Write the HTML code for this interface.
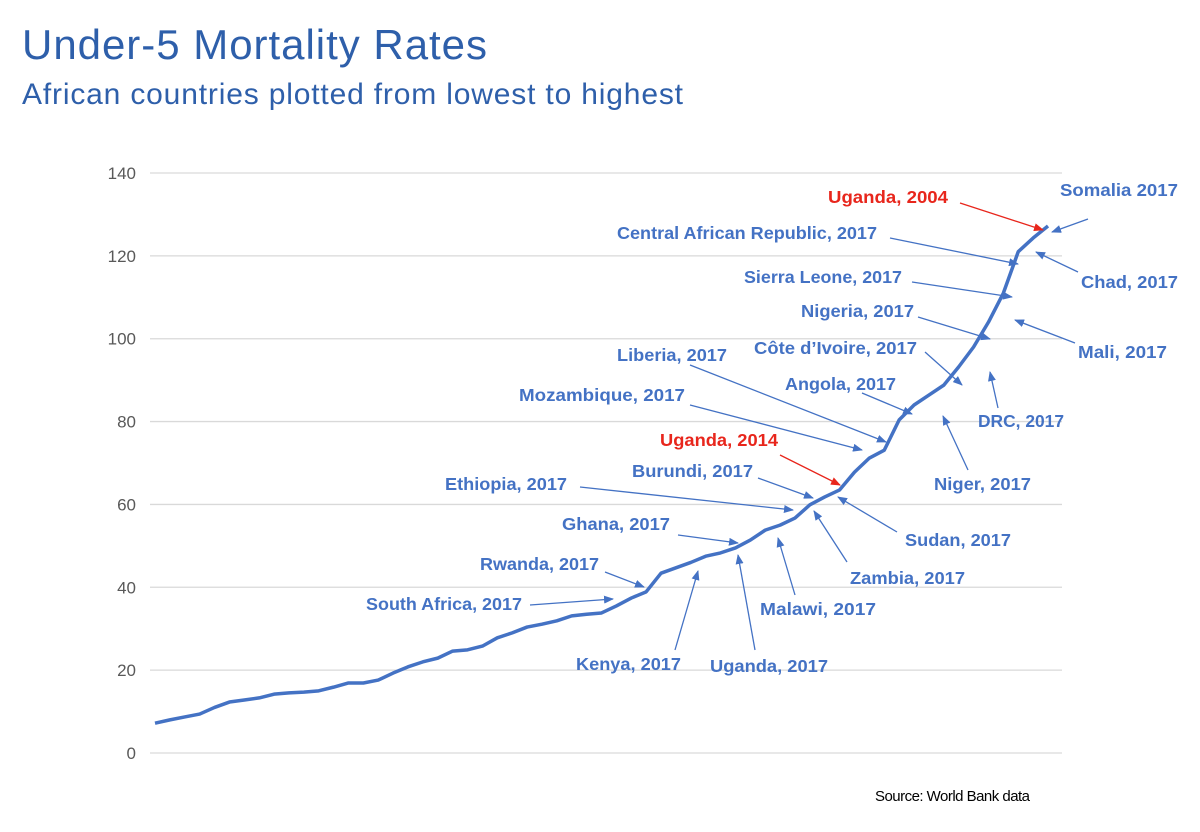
<!DOCTYPE html>
<html><head><meta charset="utf-8"><style>
body{margin:0;background:#fff;font-family:"Liberation Sans",sans-serif}
svg{display:block}
</style></head><body>
<svg id="c" width="1200" height="832">
<defs>
<marker id="ab" markerWidth="10" markerHeight="8" refX="9" refY="4" orient="auto" markerUnits="userSpaceOnUse"><path d="M0,0 L10,4 L0,8 z" fill="#4472c4"/></marker>
<marker id="ar" markerWidth="10" markerHeight="8" refX="9" refY="4" orient="auto" markerUnits="userSpaceOnUse"><path d="M0,0 L10,4 L0,8 z" fill="#e8261c"/></marker>
</defs>
<text x="22" y="59" font-size="42" textLength="465" fill="#2e5faa">Under-5 Mortality Rates</text>
<text x="22" y="104" font-size="30" textLength="661" fill="#2e5faa">African countries plotted from lowest to highest</text>
<text x="875" y="801" font-size="15" textLength="155" fill="#000">Source: World Bank data</text>
<g id="grid"></g><g id="line"></g><g id="ann"></g>
</svg>
<script>
const yTicks=[0,20,40,60,80,100,120,140];
const values=[7.2,8,8.7,9.4,11,12.3,12.8,13.3,14.2,14.5,14.7,15,15.9,16.9,16.9,17.6,19.3,20.8,22,22.9,24.6,24.9,25.8,27.8,29,30.4,31.1,31.9,33.1,33.5,33.8,35.5,37.4,38.9,43.4,44.7,46,47.5,48.3,49.5,51.4,53.8,55,56.7,59.9,61.8,63.5,67.8,71.2,73.1,80.4,84,86.4,88.8,93.2,98,104,111,121,124.3,127.2];
const labels=["Uganda, 2004","Somalia 2017","Central African Republic, 2017","Chad, 2017","Sierra Leone, 2017","Nigeria, 2017","Mali, 2017","Côte d’Ivoire, 2017","Liberia, 2017","Angola, 2017","Mozambique, 2017","DRC, 2017","Niger, 2017","Uganda, 2014","Burundi, 2017","Ethiopia, 2017","Sudan, 2017","Ghana, 2017","Zambia, 2017","Rwanda, 2017","Malawi, 2017","South Africa, 2017","Kenya, 2017","Uganda, 2017"];
const NS="http://www.w3.org/2000/svg";
const x0=155,x1=1048,yb=753,pxPer=580/140;
const X=i=>x0+(x1-x0)*i/(values.length-1);
const Y=v=>yb-v*pxPer;
const grid=document.getElementById('grid');
yTicks.forEach(t=>{
 const l=document.createElementNS(NS,'line');
 l.setAttribute('x1',150);l.setAttribute('x2',1062);l.setAttribute('y1',Y(t));l.setAttribute('y2',Y(t));
 l.setAttribute('stroke','#d9d9d9');l.setAttribute('stroke-width','1.3');
 
 
 grid.appendChild(l);
 const tx=document.createElementNS(NS,'text');
 tx.setAttribute('x',136);tx.setAttribute('y',Y(t)+6);tx.setAttribute('text-anchor','end');
 tx.setAttribute('font-size','17');tx.setAttribute('fill','#595959');tx.textContent=t;
 
 
 grid.appendChild(tx);
});
const p=document.createElementNS(NS,'polyline');
p.setAttribute('points',values.map((v,i)=>X(i)+','+Y(v)).join(' '));
p.setAttribute('fill','none');p.setAttribute('stroke','#4472c4');p.setAttribute('stroke-width','3.5');p.setAttribute('stroke-linejoin','round');


document.getElementById('line').appendChild(p);
// layout: [textX, textY, textWidth, arrowX1, arrowY1, arrowX2, arrowY2, red]
const lay=[[828,197,120,960,203,1043,230,1],[1060,190,118,1088,219,1052,232,0],[617,233,260,890,238,1018,264,0],[1081,282,97,1078,272,1036,252,0],[744,277,158,912,282,1012,297,0],[801,311,113,918,317,990,339,0],[1078,352,89,1075,343,1015,320,0],[754,348,163,925,352,962,385,0],[617,355,110,690,365,886,442,0],[785,384,111,862,393,912,414,0],[519,395,166,690,405,862,450,0],[978,421,86,998,408,990,372,0],[934,484,97,968,470,943,416,0],[660,440,118,780,455,840,485,1],[632,471,121,758,478,813,498,0],[445,484,122,580,487,793,510,0],[905,540,106,897,532,838,497,0],[562,524,108,678,535,738,543,0],[850,578,115,847,562,814,511,0],[480,564,119,605,572,644,587,0],[760,609,116,795,595,778,538,0],[366,604,156,530,605,613,599,0],[576,664,105,675,650,698,571,0],[710,666,118,755,650,738,555,0]];
const ann=document.getElementById('ann');
labels.forEach((s,i)=>{
 const a=lay[i],c=a[7]?'#e8261c':'#4472c4';
 const t=document.createElementNS(NS,'text');
 t.setAttribute('x',a[0]);t.setAttribute('y',a[1]+6);t.setAttribute('font-size','17.5');t.setAttribute('font-weight','bold');t.setAttribute('fill',c);
 t.setAttribute('textLength',a[2]);t.setAttribute('lengthAdjust','spacingAndGlyphs');
 t.textContent=s;
 
 
 ann.appendChild(t);
 const l=document.createElementNS(NS,'line');
 l.setAttribute('x1',a[3]);l.setAttribute('y1',a[4]);l.setAttribute('x2',a[5]);l.setAttribute('y2',a[6]);
 l.setAttribute('stroke',c);l.setAttribute('stroke-width','1.3');l.setAttribute('marker-end',a[7]?'url(#ar)':'url(#ab)');
 
 
 ann.appendChild(l);
});
</script>
</body></html>
